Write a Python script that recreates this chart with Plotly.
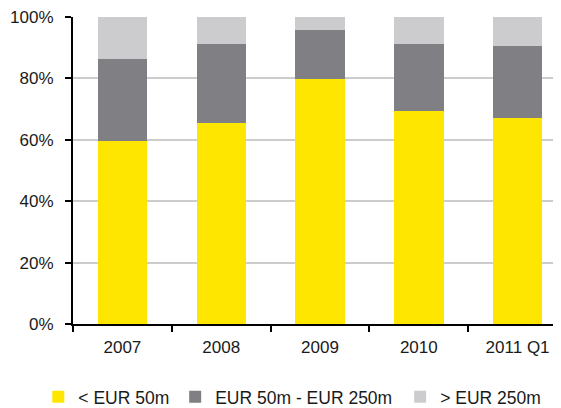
import plotly.graph_objects as go

# categories and shares (%)
years = ["2007", "2008", "2009", "2010", "2011 Q1"]
small = [59.6, 65.5, 79.8, 69.4, 67.1]      # < EUR 50m
mid = [26.7, 25.7, 16.0, 21.8, 23.6]        # EUR 50m - EUR 250m
large = [13.7, 8.8, 4.2, 8.8, 9.3]          # > EUR 250m

fig = go.Figure()
fig.add_trace(go.Bar(x=years, y=small, name="< EUR 50m", marker_color="#FFE600", legend="legend"))
fig.add_trace(go.Bar(x=years, y=mid, name="EUR 50m - EUR 250m", marker_color="#807F83", legend="legend2"))
fig.add_trace(go.Bar(x=years, y=large, name="> EUR 250m", marker_color="#CCCCCE", legend="legend3"))

fig.update_traces(marker_line_width=0)

# one legend per series so the row can be spaced like the original
leg = dict(orientation="h", xanchor="left", xref="container", yref="container",
           y=0.047, yanchor="middle", itemwidth=30,
           font=dict(family="Liberation Sans, Arial", size=17.5))

# page body has an 8px default margin, so margins are trimmed to compensate
fig.update_layout(
    barmode="stack",
    bargap=0.5,
    width=561, height=408,
    margin=dict(l=65, r=2, t=9, b=92),
    plot_bgcolor="white", paper_bgcolor="white",
    font=dict(family="Liberation Sans, Arial", size=17, color="#1a1a1a"),
    legend=dict(leg, x=0.054),
    legend2=dict(leg, x=0.298),
    legend3=dict(leg, x=0.699),
    showlegend=True,
)
fig.update_yaxes(range=[0, 100], dtick=20, ticksuffix="%", showgrid=True,
                 gridcolor="#CCCCCC", gridwidth=2, showline=True, linecolor="black",
                 linewidth=2, ticks="outside", ticklen=6, tickwidth=2, tickcolor="black",
                 zeroline=False, automargin=False, ticklabelstandoff=8,
                 ticklabeloverflow="allow")
fig.update_xaxes(showline=True, linecolor="black", linewidth=2, ticks="outside",
                 tickson="boundaries", ticklen=6, tickwidth=2, tickcolor="black",
                 automargin=False, ticklabelstandoff=7, ticklabeloverflow="allow")

fig.write_html("out.html")
